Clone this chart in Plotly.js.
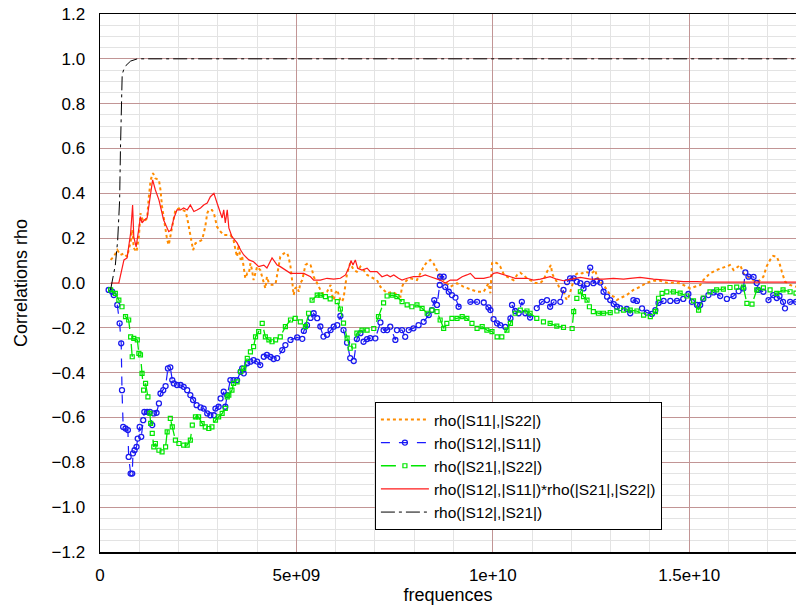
<!DOCTYPE html>
<html>
<head>
<meta charset="utf-8">
<script src="https://cdn.plot.ly/plotly-3.0.1.min.js"></script>
<style>html,body{margin:0;padding:0;background:#fff;}#chart{width:796px;height:605px;}</style>
</head>
<body>
<div id="chart"></div>
<script>
// Frequencies in GHz (converted to Hz for the axis), correlation values unitless
const s11s22_f = [0.27,0.35,0.44,0.52,0.61,0.69,0.78,0.82,0.86,0.93,0.99,1.03,1.07,1.11,1.16,1.20,1.24,1.29,1.35,1.41,1.50,1.54,1.58,1.62,1.67,1.71,1.75,1.79,1.84,1.88,1.92,2.01,2.09,2.18,2.23,2.30,2.37,2.43,2.51,2.60,2.68,2.73,2.77,2.85,2.90,2.94,2.98,3.07,3.15,3.32,3.40,3.45,3.49,3.53,3.58,3.62,3.66,3.70,3.75,3.79,3.83,3.87,3.91,3.96,4.00,4.08,4.17,4.21,4.25,4.30,4.38,4.47,4.51,4.55,4.59,4.68,4.76,4.80,4.85,4.89,4.93,4.97,5.02,5.06,5.10,5.15,5.19,5.23,5.29,5.36,5.40,5.44,5.53,5.61,5.65,5.78,5.87,5.91,5.95,5.99,6.04,6.12,6.16,6.20,6.25,6.29,6.37,6.46,6.54,6.59,6.63,6.71,6.80,6.88,7.05,7.14,7.26,7.31,7.44,7.52,7.65,7.69,7.73,7.82,7.90,8.07,8.16,8.24,8.33,8.41,8.49,8.58,8.66,8.75,8.83,8.92,9.09,9.26,9.43,9.60,9.77,9.85,9.89,9.94,9.98,10.02,10.11,10.19,10.27,10.36,10.45,10.53,10.62,10.70,10.78,10.87,10.95,11.08,11.21,11.29,11.38,11.45,11.48,11.51,11.55,11.63,11.70,11.76,11.80,11.84,11.89,11.95,12.02,12.06,12.10,12.18,12.27,12.35,12.44,12.52,12.61,12.65,12.74,12.82,12.91,12.99,13.08,13.16,13.24,13.41,13.58,13.75,13.92,14.09,14.26,14.43,14.60,14.77,14.94,15.03,15.20,15.28,15.36,15.45,15.53,15.70,15.87,16.04,16.13,16.30,16.38,16.55,16.72,16.80,16.89,16.97,17.06,17.14,17.23,17.30,17.36,17.44,17.57,17.72];
const s11s22_r = [0.103,0.117,0.147,0.125,0.132,0.117,0.184,0.237,0.156,0.139,0.206,0.311,0.289,0.274,0.281,0.289,0.378,0.460,0.490,0.467,0.460,0.415,0.341,0.296,0.237,0.192,0.170,0.207,0.251,0.296,0.326,0.333,0.326,0.319,0.281,0.207,0.147,0.177,0.184,0.192,0.251,0.311,0.326,0.326,0.311,0.274,0.251,0.229,0.214,0.214,0.192,0.147,0.117,0.170,0.103,0.117,0.058,0.021,0.043,0.043,0.088,0.058,0.013,0.043,0.073,0.058,-0.001,-0.024,0.028,-0.001,-0.009,-0.004,0.036,0.073,0.117,0.132,0.135,0.117,0.073,0.013,-0.054,-0.024,-0.017,-0.039,-0.001,0.013,0.043,0.080,0.088,0.080,0.058,0.028,-0.001,-0.031,-0.046,-0.039,-0.009,-0.054,-0.076,-0.046,-0.031,-0.076,-0.084,-0.068,-0.017,0.043,0.088,0.058,0.050,0.066,0.073,0.058,0.036,0.028,0.013,-0.017,-0.039,-0.046,-0.039,-0.046,-0.061,-0.017,-0.001,0.013,0.021,0.013,0.043,0.073,0.095,0.103,0.088,0.058,0.028,0.013,-0.001,-0.017,-0.001,-0.017,-0.028,-0.039,-0.039,-0.017,-0.001,-0.046,0.088,0.095,0.088,0.073,0.043,0.028,0.021,0.013,0.036,0.046,0.036,0.021,0.013,0.000,0.000,0.013,0.050,0.073,0.080,0.043,0.028,0.006,-0.024,-0.039,-0.031,-0.061,-0.076,-0.054,-0.017,0.013,0.036,0.046,0.043,0.050,0.046,0.043,0.058,0.028,0.006,-0.009,-0.031,-0.054,-0.061,-0.076,-0.068,-0.054,-0.031,-0.017,0.001,0.010,0.010,0.001,0.001,-0.001,-0.017,-0.024,-0.013,-0.009,0.013,0.028,0.043,0.058,0.070,0.080,0.058,0.080,0.043,0.021,0.006,0.013,0.028,0.073,0.103,0.121,0.117,0.088,0.050,0.006,-0.009,-0.017];

const s12s11_f = [0.22,0.31,0.35,0.44,0.50,0.54,0.56,0.59,0.65,0.71,0.73,0.78,0.82,0.84,0.88,0.93,0.96,1.01,1.05,1.10,1.13,1.20,1.27,1.33,1.37,1.44,1.50,1.54,1.61,1.67,1.73,1.79,1.84,1.88,1.96,2.05,2.13,2.22,2.30,2.37,2.46,2.56,2.64,2.73,2.81,2.90,2.94,3.02,3.07,3.15,3.19,3.24,3.32,3.40,3.49,3.58,3.62,3.66,3.75,3.83,3.91,4.00,4.08,4.17,4.25,4.34,4.42,4.51,4.64,4.72,4.85,5.02,5.15,5.19,5.27,5.36,5.44,5.53,5.61,5.69,5.78,5.87,5.95,6.04,6.12,6.20,6.29,6.37,6.46,6.54,6.63,6.71,6.80,6.88,7.01,7.14,7.22,7.31,7.39,7.52,7.56,7.69,7.77,7.86,7.98,8.11,8.24,8.37,8.45,8.51,8.58,8.65,8.66,8.75,8.79,8.88,8.96,9.05,9.13,9.43,9.60,9.77,9.89,9.94,10.02,10.11,10.19,10.32,10.45,10.49,10.57,10.66,10.74,10.83,10.95,11.12,11.25,11.38,11.46,11.55,11.72,11.80,11.89,11.97,12.06,12.14,12.23,12.31,12.40,12.48,12.56,12.65,12.74,12.82,12.91,12.99,13.08,13.16,13.24,13.41,13.50,13.58,13.67,13.80,13.92,14.05,14.14,14.22,14.35,14.52,14.69,14.85,14.98,15.07,15.20,15.28,15.36,15.49,15.62,15.79,15.96,16.13,16.26,16.38,16.43,16.51,16.64,16.72,16.76,16.89,17.02,17.14,17.23,17.30,17.39,17.44,17.57,17.72];
const s12s11_r = [-0.031,-0.039,-0.054,-0.098,-0.180,-0.269,-0.478,-0.642,-0.649,-0.656,-0.776,-0.850,-0.850,-0.760,-0.746,-0.731,-0.694,-0.642,-0.686,-0.612,-0.575,-0.575,-0.575,-0.634,-0.582,-0.579,-0.537,-0.493,-0.478,-0.460,-0.381,-0.376,-0.433,-0.448,-0.455,-0.455,-0.463,-0.478,-0.500,-0.522,-0.545,-0.555,-0.560,-0.582,-0.590,-0.590,-0.560,-0.552,-0.515,-0.485,-0.552,-0.500,-0.433,-0.433,-0.433,-0.396,-0.381,-0.403,-0.358,-0.351,-0.344,-0.351,-0.366,-0.329,-0.321,-0.330,-0.339,-0.335,-0.299,-0.277,-0.254,-0.243,-0.249,-0.214,-0.188,-0.156,-0.135,-0.157,-0.194,-0.239,-0.231,-0.210,-0.195,-0.188,-0.147,-0.210,-0.266,-0.335,-0.348,-0.250,-0.224,-0.262,-0.250,-0.246,-0.247,-0.176,-0.210,-0.210,-0.195,-0.254,-0.210,-0.210,-0.240,-0.210,-0.202,-0.188,-0.173,-0.143,-0.121,-0.076,-0.098,-0.009,0.028,0.028,-0.018,-0.039,-0.054,-0.065,-0.106,-0.084,-0.084,-0.087,-0.109,-0.121,-0.161,-0.180,-0.188,-0.196,-0.158,-0.098,-0.125,-0.135,-0.084,-0.135,-0.154,-0.112,-0.084,-0.076,-0.106,-0.085,-0.084,-0.031,0.004,0.021,0.021,0.006,-0.001,-0.024,-0.004,0.069,-0.001,0.009,0.002,-0.039,-0.061,-0.076,-0.094,-0.106,-0.112,-0.116,-0.135,-0.076,-0.080,-0.113,-0.132,-0.138,-0.121,-0.089,-0.080,-0.080,-0.080,-0.071,-0.049,-0.084,-0.098,-0.098,-0.071,-0.054,-0.042,-0.058,-0.071,-0.058,-0.036,-0.024,0.047,0.028,0.027,0.000,-0.031,-0.039,-0.076,-0.054,-0.067,-0.058,-0.084,-0.113,-0.084,-0.084];

const s21s22_f = [0.27,0.39,0.48,0.56,0.65,0.73,0.78,0.82,0.86,0.95,0.99,1.03,1.07,1.11,1.16,1.22,1.27,1.29,1.33,1.37,1.41,1.50,1.58,1.67,1.71,1.79,1.84,1.92,2.01,2.13,2.22,2.30,2.35,2.43,2.51,2.60,2.68,2.77,2.85,2.94,3.02,3.11,3.19,3.24,3.28,3.36,3.40,3.49,3.58,3.66,3.75,3.83,3.91,3.96,4.04,4.13,4.21,4.30,4.38,4.47,4.59,4.72,4.85,4.97,5.10,5.23,5.31,5.40,5.53,5.61,5.74,5.86,6.04,6.12,6.20,6.29,6.37,6.46,6.54,6.67,6.80,6.97,7.09,7.22,7.31,7.44,7.56,7.69,7.82,7.94,8.07,8.20,8.33,8.45,8.58,8.66,8.75,8.83,8.96,9.09,9.22,9.34,9.47,9.60,9.73,9.85,9.98,10.11,10.23,10.36,10.45,10.57,10.70,10.87,10.95,11.12,11.29,11.46,11.63,11.80,12.02,12.06,12.14,12.23,12.31,12.40,12.46,12.56,12.69,12.82,12.99,13.16,13.33,13.50,13.67,13.84,14.01,14.14,14.22,14.31,14.43,14.60,14.77,14.94,15.11,15.24,15.36,15.53,15.70,15.87,16.04,16.21,16.38,16.47,16.60,16.72,16.89,17.06,17.23,17.39,17.57,17.72];
const s21s22_r = [-0.031,-0.046,-0.076,-0.106,-0.150,-0.165,-0.240,-0.329,-0.247,-0.254,-0.314,-0.321,-0.403,-0.478,-0.448,-0.508,-0.582,-0.626,-0.671,-0.731,-0.716,-0.746,-0.753,-0.731,-0.664,-0.604,-0.642,-0.701,-0.716,-0.723,-0.723,-0.701,-0.634,-0.597,-0.597,-0.627,-0.642,-0.649,-0.642,-0.612,-0.597,-0.582,-0.559,-0.508,-0.500,-0.478,-0.448,-0.441,-0.396,-0.381,-0.336,-0.307,-0.284,-0.240,-0.217,-0.180,-0.240,-0.254,-0.262,-0.254,-0.240,-0.195,-0.165,-0.158,-0.173,-0.195,-0.135,-0.076,-0.054,-0.054,-0.061,-0.071,-0.083,-0.116,-0.179,-0.246,-0.291,-0.281,-0.224,-0.210,-0.210,-0.203,-0.150,-0.089,-0.058,-0.054,-0.061,-0.083,-0.098,-0.106,-0.098,-0.113,-0.135,-0.121,-0.128,-0.165,-0.202,-0.180,-0.158,-0.158,-0.150,-0.158,-0.180,-0.202,-0.195,-0.210,-0.217,-0.240,-0.240,-0.210,-0.180,-0.135,-0.121,-0.125,-0.135,-0.158,-0.173,-0.180,-0.192,-0.198,-0.203,-0.128,-0.069,-0.039,-0.061,-0.076,-0.106,-0.128,-0.135,-0.135,-0.132,-0.125,-0.121,-0.121,-0.125,-0.143,-0.150,-0.128,-0.068,-0.046,-0.040,-0.040,-0.045,-0.058,-0.080,-0.121,-0.067,-0.040,-0.031,-0.027,-0.020,-0.018,-0.018,-0.091,-0.094,-0.031,-0.022,-0.031,-0.046,-0.031,-0.039,-0.045];

const prod_f = [0.27,0.48,0.61,0.69,0.78,0.83,0.86,0.92,0.99,1.03,1.07,1.13,1.20,1.29,1.34,1.41,1.50,1.62,1.75,1.81,1.88,1.96,2.05,2.13,2.22,2.30,2.39,2.47,2.56,2.64,2.73,2.81,2.90,2.98,3.07,3.11,3.15,3.19,3.24,3.28,3.36,3.49,3.58,3.66,3.79,3.91,4.04,4.17,4.25,4.38,4.51,4.59,4.85,5.02,5.19,5.36,5.44,5.61,5.78,5.95,6.12,6.25,6.33,6.39,6.44,6.50,6.56,6.67,6.80,6.88,7.05,7.18,7.31,7.39,7.48,7.60,7.69,7.82,7.98,8.16,8.28,8.41,8.54,8.66,8.79,8.92,9.09,9.22,9.34,9.43,9.55,9.77,9.94,10.02,10.11,10.27,10.45,10.57,10.70,10.87,11.04,11.21,11.46,11.63,11.80,11.97,12.23,12.48,12.82,13.07,13.33,13.50,13.75,14.09,14.35,14.60,14.85,15.20,15.45,16.05,16.89,17.72];
const prod_r = [0.000,0.000,0.103,0.112,0.223,0.348,0.206,0.161,0.245,0.296,0.268,0.281,0.290,0.402,0.460,0.415,0.371,0.281,0.229,0.237,0.289,0.326,0.326,0.335,0.326,0.348,0.319,0.326,0.335,0.348,0.357,0.385,0.400,0.357,0.313,0.290,0.326,0.268,0.326,0.246,0.207,0.179,0.147,0.125,0.103,0.095,0.073,0.080,0.067,0.112,0.080,0.073,0.043,0.043,0.043,0.028,0.013,0.013,0.021,0.017,0.021,0.036,0.066,0.100,0.080,0.103,0.066,0.058,0.066,0.051,0.051,0.028,0.036,0.028,0.036,0.021,0.013,0.021,0.028,0.028,0.036,0.028,0.021,0.013,0.000,0.013,0.013,0.028,0.036,0.043,0.021,0.021,0.028,0.043,0.046,0.036,0.028,0.021,0.021,0.021,0.013,0.017,0.028,0.017,0.010,0.017,0.025,0.017,0.017,0.021,0.017,0.021,0.025,0.017,0.013,0.010,0.006,0.006,0.004,0.004,0.004,0.004];

const s12s21_f = [0.27,0.30,0.39,0.45,0.50,0.52,0.565,0.60,0.66,0.78,0.95,17.72];
const s12s21_r = [-0.03,0.0,0.08,0.19,0.37,0.59,0.93,0.95,0.97,0.99,1.0,1.0];

const names = ["rho(|S11|,|S22|)","rho(|S12|,|S11|)","rho(|S21|,|S22|)","rho(|S12|,|S11|)*rho(|S21|,|S22|)","rho(|S12|,|S21|)"];
const xTickVals = [0, 5e9, 1e10, 1.5e10];
const xTickText = ["0", "5e+09", "1e+10", "1.5e+10"];

const hz = a => a.map(v => v * 1e9);

const traces = [
  {x: hz(s11s22_f), y: s11s22_r, name: names[0], mode: 'lines',
   line: {color: '#ff8c00', width: 2, dash: 'dot'}},
  {x: hz(s12s11_f), y: s12s11_r, name: names[1], mode: 'lines+markers',
   line: {color: '#1a1aff', width: 1.2, dash: 'dash'},
   marker: {symbol: 'circle-open', size: 5, color: '#1a1aee', line: {width: 1.3}}},
  {x: hz(s21s22_f), y: s21s22_r, name: names[2], mode: 'lines+markers',
   line: {color: '#00e600', width: 1.3, dash: 'longdash'},
   marker: {symbol: 'square-open', size: 4, color: '#00e600', line: {width: 1.2}}},
  {x: hz(prod_f), y: prod_r, name: names[3], mode: 'lines',
   line: {color: '#ff1a1a', width: 1.2}},
  {x: hz(s12s21_f), y: s12s21_r, name: names[4], mode: 'lines',
   line: {color: '#000000', width: 1, dash: '14px,4px,3px,4px'}}
];

const majorGrid = '#c29595';
const minorGrid = '#e3e3e3';
const fontFam = '"Liberation Sans", Arial, sans-serif';

const layout = {
  width: 796, height: 605,
  margin: {l: 100, r: 0, t: 14, b: 53},
  paper_bgcolor: '#ffffff', plot_bgcolor: '#ffffff',
  font: {family: fontFam, color: '#000000', size: 16},
  showlegend: true,
  legend: {
    x: 0.395, y: 0.279, xanchor: 'left', yanchor: 'top',
    bgcolor: '#ffffff', bordercolor: '#000000', borderwidth: 1,
    font: {family: fontFam, size: 15.5, color: '#000'},
    itemwidth: 48, tracegroupgap: 0
  },
  xaxis: {
    range: [0, 1.772e10], tickmode: 'array', tickvals: xTickVals, ticktext: xTickText,
    showgrid: true, gridcolor: majorGrid, gridwidth: 1, zeroline: false,
    showline: true, linecolor: '#000', linewidth: 1.5, mirror: true,
    ticks: '', ticklabelstandoff: 7,
    tickfont: {size: 17, family: fontFam},
    minor: {tickmode: 'linear', tick0: 0, dtick: 1e9, showgrid: true, gridcolor: minorGrid, gridwidth: 1, ticks: ''},
    title: {text: 'frequences', font: {size: 18, family: fontFam}, standoff: 2},
    automargin: false
  },
  yaxis: {
    range: [-1.2, 1.2], tickmode: 'linear', tick0: -1.2, dtick: 0.2, tickformat: '.1f',
    showgrid: true, gridcolor: majorGrid, gridwidth: 1, zeroline: false,
    showline: true, linecolor: '#000', linewidth: 1.5,
    ticks: '', ticklabelstandoff: 10,
    tickfont: {size: 17, family: fontFam},
    minor: {tickmode: 'linear', tick0: 0, dtick: 0.05, showgrid: true, gridcolor: minorGrid, gridwidth: 1, ticks: ''},
    title: {text: 'Correlations rho', font: {size: 18, family: fontFam}, standoff: 19},
    automargin: false
  }
};

Plotly.newPlot('chart', traces, layout, {displayModeBar: false, staticPlot: true});
</script>
</body>
</html>
